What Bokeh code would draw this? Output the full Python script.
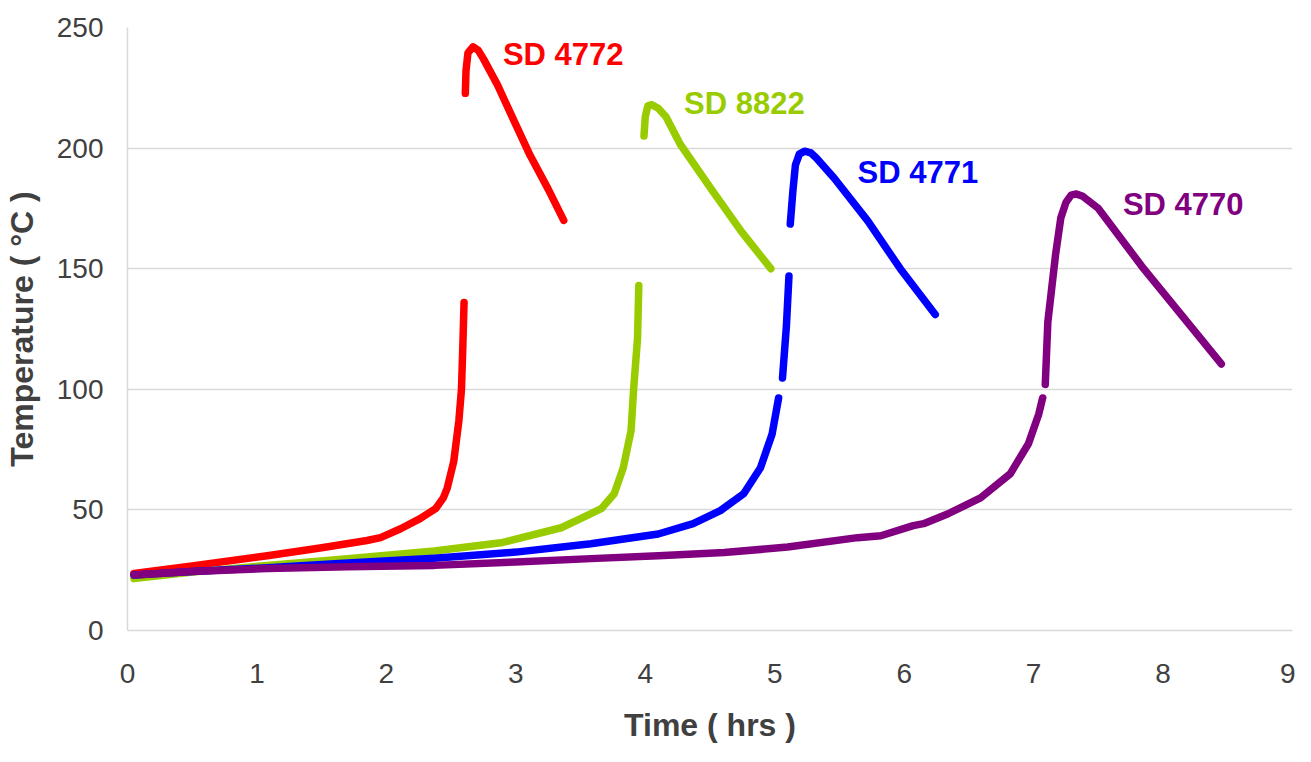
import numpy as np
from bokeh.plotting import figure
from bokeh.models import Range1d, FixedTicker, ColumnDataSource
from bokeh.core.properties import value
from bokeh.embed import file_html
from bokeh.resources import INLINE

nan = float("nan")

# ---- data (time in hrs, temperature in deg C); NaN marks a gap in the recorded trace
sd4772_time = [0.05, 0.5, 1.08, 1.5, 1.85, 1.955, 2.11, 2.26, 2.38, 2.44, 2.47, 2.52, 2.56, 2.58, 2.59, 2.60,
               nan,
               2.61, 2.615, 2.63, 2.67, 2.71, 2.75, 2.86, 2.98, 3.11, 3.25, 3.37]
sd4772_temp = [23.6, 26.8, 31.0, 34.3, 37.3, 38.5, 42.2, 46.4, 50.5, 55.0, 59.0, 70.0, 87.0, 100.0, 117.0, 136.0,
               nan,
               222.7, 232.0, 239.5, 242.0, 240.5, 237.0, 226.0, 212.0, 197.0, 183.0, 170.0]

sd8822_time = [0.05, 0.5, 1.08, 1.7, 2.37, 2.9, 3.35, 3.50, 3.66, 3.76, 3.83, 3.89, 3.91, 3.94, 3.95,
               nan,
               3.99, 4.00, 4.02, 4.05, 4.10, 4.16, 4.27, 4.51, 4.74, 4.97]
sd8822_temp = [21.5, 24.2, 27.0, 29.8, 33.0, 36.5, 42.6, 46.4, 50.5, 56.7, 67.5, 82.8, 100.0, 121.0, 143.0,
               nan,
               205.0, 213.0, 217.5, 218.0, 216.5, 213.0, 201.6, 183.0, 165.6, 150.0]

sd4771_time = [0.05, 0.5, 1.08, 1.7, 2.37, 3.0, 3.58, 4.10, 4.37, 4.58, 4.76, 4.89, 4.98, 5.03,
               nan,
               5.06, 5.09, 5.11,
               nan,
               5.12, 5.14, 5.16, 5.19, 5.23, 5.28, 5.32, 5.46, 5.72, 5.97, 6.24]
sd4771_temp = [23.0, 24.5, 26.0, 28.0, 30.0, 32.5, 36.0, 40.0, 44.3, 49.7, 56.7, 67.5, 81.5, 96.4,
               nan,
               104.7, 126.0, 147.0,
               nan,
               168.5, 182.0, 193.0, 197.5, 198.7, 198.0, 196.0, 187.5, 169.7, 150.0, 131.0]

sd4770_time = [0.05, 0.5, 1.08, 1.7, 2.37, 3.0, 3.58, 4.10, 4.61, 5.10, 5.64, 5.82, 6.07, 6.15, 6.34, 6.59,
               6.82, 6.96, 7.04, 7.07,
               nan,
               7.09, 7.11, 7.17, 7.21, 7.25, 7.29, 7.33, 7.38, 7.50, 7.85, 8.14, 8.45]
sd4770_temp = [23.0, 24.5, 25.7, 26.4, 27.0, 28.4, 29.8, 31.0, 32.3, 34.6, 38.5, 39.3, 43.5, 44.3, 48.4, 55.0,
               65.0, 77.4, 89.8, 96.4,
               nan,
               102.0, 128.0, 156.0, 171.0, 177.5, 180.5, 181.0, 180.0, 175.0, 150.0, 131.0, 110.5]

series_names = ["SD 4772", "SD 8822", "SD 4771", "SD 4770"]
series_time = [sd4772_time, sd8822_time, sd4771_time, sd4770_time]
series_temp = [sd4772_temp, sd8822_temp, sd4771_temp, sd4770_temp]
series_colors = ["#FF0000", "#99CC00", "#0000FF", "#800080"]

# label anchors (left edge, vertical middle) in data units
label_x = [2.90, 4.30, 5.64, 7.69]
label_y = [239.0, 218.3, 190.0, 176.7]

x_ticks = [0, 1, 2, 3, 4, 5, 6, 7, 8, 9]
y_ticks = [0, 50, 100, 150, 200, 250]

FONT = "Liberation Sans"
TXT = "#404040"
GRID = "#D9D9D9"

p = figure(width=1295, height=746, output_backend="svg", toolbar_location=None,
           x_range=Range1d(0, 9), y_range=Range1d(0, 250),
           min_border_left=127, min_border_right=3, min_border_top=27, min_border_bottom=116)
p.outline_line_color = None
p.background_fill_color = "white"
p.border_fill_color = "white"

p.xgrid.grid_line_color = None
p.ygrid.grid_line_color = GRID
p.ygrid.grid_line_width = 1.5
p.ygrid.ticker = FixedTicker(ticks=y_ticks)

p.xaxis.ticker = FixedTicker(ticks=x_ticks)
p.yaxis.ticker = FixedTicker(ticks=y_ticks)
for ax in (p.xaxis[0], p.yaxis[0]):
    ax.axis_line_color = GRID
    ax.axis_line_width = 1.5
    ax.major_tick_line_color = None
    ax.minor_tick_line_color = None
    ax.major_tick_out = 0
    ax.major_tick_in = 0
    ax.major_label_text_font = FONT
    ax.major_label_text_font_size = "28px"
    ax.major_label_text_color = TXT
    ax.axis_label_text_font = FONT
    ax.axis_label_text_font_style = "bold"
    ax.axis_label_text_font_size = "32px"
    ax.axis_label_text_color = TXT

p.xaxis.axis_label = "Time ( hrs )"
p.yaxis.axis_label = "Temperature ( °C )"
p.xaxis.major_label_standoff = 33
p.xaxis.axis_label_standoff = 21
p.yaxis.major_label_standoff = 24
p.yaxis.axis_label_standoff = 14

for t, y, c in zip(series_time, series_temp, series_colors):
    p.line(x=np.array(t), y=np.array(y), line_color=c, line_width=7.5,
           line_cap="round", line_join="round")

src = ColumnDataSource(dict(x=label_x, y=label_y, text=series_names, color=series_colors))
p.text(x="x", y="y", text="text", text_color="color", source=src,
       text_font=value(FONT), text_font_style="bold", text_font_size="31px",
       text_align="left", text_baseline="middle")

open("out.html", "w").write(file_html(p, INLINE))
